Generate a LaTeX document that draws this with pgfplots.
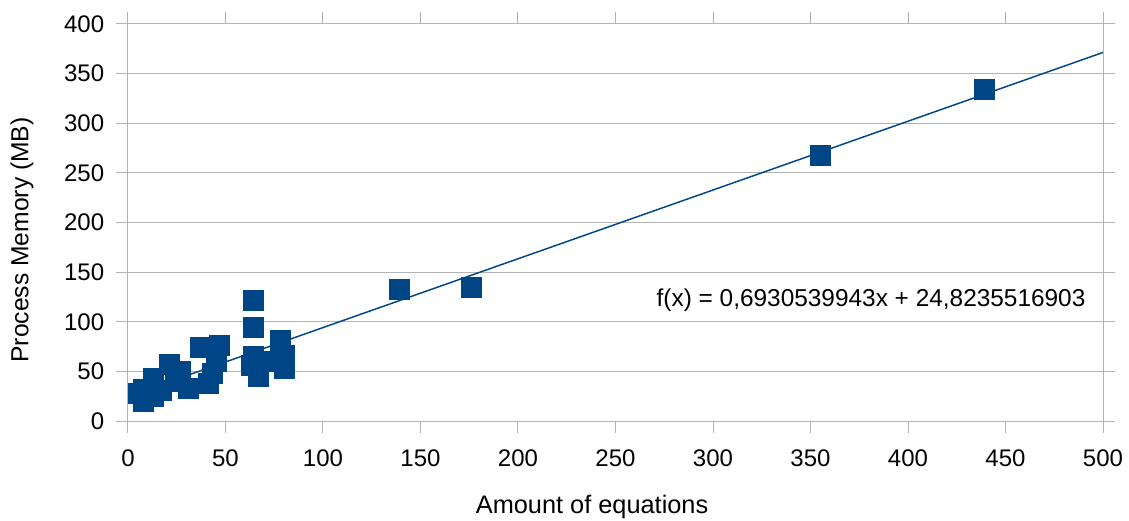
\documentclass[border=0pt]{standalone}
\usepackage{pgfplots}
\pgfplotsset{compat=1.18}
\usepackage{fontspec}
\setmainfont{Liberation Sans}
\definecolor{ser}{HTML}{004586}
\definecolor{gridc}{HTML}{B3B3B3}
\begin{document}
\fontsize{17pt}{20pt}\selectfont
\begin{tikzpicture}
\useasboundingbox (-96pt,-75pt) rectangle (750.75pt,315.75pt);
\begin{axis}[
  at={(0,0)}, anchor=south west,
  scale only axis, width=731.25pt, height=297.75pt,
  xmin=0, xmax=500, ymin=0, ymax=400,
  xtick={0,50,...,500}, ytick={0,50,...,400},
  tick align=outside, major tick length=9pt,
  tick style={gridc, line width=0.75pt},
  axis line style={gridc, line width=0.75pt},
  ymajorgrids, grid style={gridc, line width=0.75pt},
  /pgf/number format/assume math mode=true,
  ticklabel style={font=\fontsize{18pt}{21pt}\selectfont, text=black},
  xticklabel style={yshift=-7pt},
  yticklabel style={xshift=-3pt},
  xlabel={Amount of equations},
  ylabel={Process Memory (MB)},
  xlabel style={font=\fontsize{19pt}{22pt}\selectfont, at={(axis description cs:0.476,-0.2166)}, anchor=center},
  ylabel style={font=\fontsize{18.5pt}{22pt}\selectfont, at={(axis description cs:-0.1087,0.456)}, anchor=center},
  clip=false,
]
\addplot[ser, line width=1.1pt] coordinates {(0,24.8235516903) (500,371.350548840)};
\addplot[only marks, mark=square*, mark size=7.5pt, mark options={fill=ser, draw=ser, line width=0.3pt}] coordinates {
(5,28) (8,20) (8,32) (13,43) (13,25) (17,31) (21,57) (27,50) (24,40) (31,33) (37,74) (41,38) (43,48) (47,76) (45,60)
(64,122) (64,95) (64,65) (63,56) (67,45) (71,60) (78,81) (80,53) (80,66)
(139,133) (176,135) (355,268) (439,334)
};
\node[anchor=west, inner sep=0pt, font=\fontsize{18.3pt}{21pt}\selectfont] at (axis cs:271,122) {f(x) = 0,6930539943x + 24,8235516903};
\end{axis}
\end{tikzpicture}
\end{document}
